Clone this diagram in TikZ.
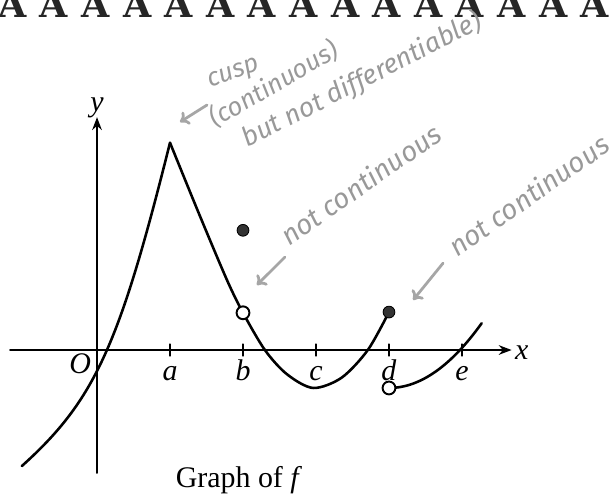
\documentclass[tikz,border=0pt]{standalone}
\usepackage{fontspec}
\setmainfont{Liberation Serif}
\newfontfamily\handfont{Fira Sans}
\newfontfamily\slabfont{DejaVu Serif}
\usetikzlibrary{arrows.meta}
\begin{document}
\begin{tikzpicture}[scale=1.2,>={Stealth[length=6pt,width=4.5pt]}, font=\fontsize{14}{16}\selectfont, line join=round, line cap=round,
	curve/.style={line width=1.2pt},
	hand/.style={gray!80, font=\handfont\itshape\fontsize{12}{14}\selectfont, inner sep=0pt, anchor=base west},
	handarrow/.style={gray!70, line width=1.3pt, -{To[length=4pt,width=7pt]}},
	fulldot/.style={circle, fill=black!80, draw=black, inner sep=0pt, minimum size=5.5pt},
	opendot/.style={circle, fill=white, draw=black, line width=0.9pt, inner sep=0pt, minimum size=6pt}]
	\def\xmin{-1.329} \def\xmax{7.11} \def\ymin{-2.082} \def\ymax{4.795}
	\useasboundingbox (\xmin,\ymin) rectangle (\xmax,\ymax);
	\clip (\xmin,\ymin) rectangle (\xmax,\ymax);
	% row of letters cut by the top edge
	\foreach \i in {0,...,14}
		\node[font=\slabfont\bfseries\fontsize{17}{17}\selectfont, text=black!85, anchor=base, inner sep=0pt] (A\i) at (-1.16+0.57*\i,4.56) {A};
	% axes
	\draw[->, line width=0.9pt] (-1.19,0)--(5.68,0);
	\draw[->, line width=0.9pt] (0,-1.685)--(0,3.19);
	\node (xlab) at (5.82,-0.03) {\textit{x}};
	\node (ylab) at (0,3.32) {\textit{y}};
	\node[anchor=base] (O) at (-0.23,-0.32) {\textit{O}};
	\foreach \t/\lab in {1/a,2/b,3/c,4/d,5/e}{
		\draw[line width=0.8pt] (\t,-0.08)--(\t,0.08);
		\node[anchor=base] (t\lab) at (\t,-0.42) {\textit{\lab}};
	}
	% graph of f
	\draw[curve] (-1.03,-1.59) .. controls (-0.027,-0.687) and (0.304,0.056) .. (1,2.84);
	\draw[curve] plot[smooth] coordinates {(1,2.84) (1.4,1.86) (1.78,0.96) (2,0.51) (2.3,0) (2.6,-0.33) (2.96,-0.52) (3.35,-0.38) (3.71,0) (4,0.52)};
	\draw[curve,domain=4:5.27,samples=40] plot(\x,{-0.52+0.55*(\x-4)^2});
	\node[fulldot] (fb) at (2,1.64) {};
	\node[opendot] (ob) at (2,0.51) {};
	\node[fulldot] (fd) at (4,0.52) {};
	\node[opendot] (od) at (4,-0.52) {};
	\node[anchor=base] (caption) at (1.945,-1.89) {Graph of \textit{f}};
	% pencil notes
	\node[hand, rotate=19] (cusp) at (1.548,3.60) {cusp};
	\node[hand, rotate=30] (cont) at (1.616,3.04) {(continuous)};
	\node[hand, rotate=27, font=\handfont\itshape\fontsize{12.5}{14}\selectfont] (notdiff) at (2.055,2.77) {but not differentiable)};
	\node[hand, rotate=35, font=\handfont\itshape\fontsize{13}{15}\selectfont] (ncb) at (2.63,1.41) {not continuous};
	\node[hand, rotate=35, font=\handfont\itshape\fontsize{13}{15}\selectfont] (ncd) at (4.93,1.26) {not continuous};
	\coordinate (cuspt) at (1.507,3.356); \coordinate (cusph) at (1.137,3.123);
	\coordinate (bt) at (2.575,1.274); \coordinate (bh) at (2.19,0.89);
	\coordinate (dt) at (4.74,1.19); \coordinate (dh) at (4.33,0.685);
	\draw[handarrow] (cuspt) -- (cusph);
	\draw[handarrow] (bt) -- (bh);
	\draw[handarrow] (dt) -- (dh);
\end{tikzpicture}
\end{document}
